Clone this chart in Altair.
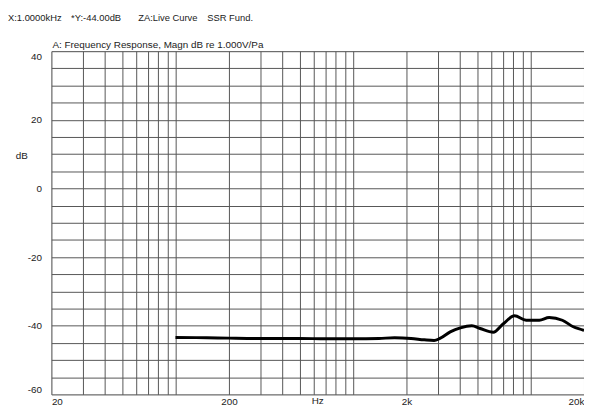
import altair as alt
import pandas as pd

# Curve data (frequency in Hz, level in dB)
freq = [100, 150, 200, 300, 500, 700, 1000, 1400, 1715, 2124, 2518, 2862, 3087,
        3528, 4027, 4668, 5200, 6165, 7000, 8130, 9440, 11200, 12730, 15100,
        17400, 19800, 20000]
level = [-43.4, -43.5, -43.6, -43.7, -43.7, -43.8, -43.8, -43.7, -43.5, -43.7,
         -44.1, -44.3, -43.7, -41.8, -40.6, -40.0, -40.8, -41.9, -39.5, -37.1,
         -38.4, -38.4, -37.6, -38.4, -40.3, -41.3, -41.4]

x_grid = [20, 30, 40, 50, 60, 70, 80, 90, 100,
          200, 300, 400, 500, 600, 700, 800, 900, 1000,
          2000, 3000, 4000, 5000, 6000, 7000, 8000, 9000, 10000, 20000]
x_labels = {20: "20", 200: "200", 2000: "2k", 20000: "20k"}
y_grid = list(range(-60, 45, 5))
y_labels = [-60, -40, -20, 0, 20, 40]

header_texts = ["X:1.0000kHz", "*Y:-44.00dB", "ZA:Live Curve", "SSR Fund."]
title_text = "A: Frequency Response, Magn dB re 1.000V/Pa"
y_title = "dB"
x_unit = "Hz"

FONT = "Liberation Sans"
TXT = "#222222"

df = pd.DataFrame({"f": freq, "db": level})

label_expr = " : ".join(
    [f"datum.value == {k} ? '{v}'" for k, v in x_labels.items()]) + " : ''"
y_label_expr = ("indexof([" + ",".join(str(v) for v in y_labels) +
                "], datum.value) >= 0 ? '' + datum.value : ''")

line = alt.Chart(df).mark_line(color="black", strokeWidth=3, interpolate="monotone").encode(
    x=alt.X("f:Q",
            scale=alt.Scale(type="log", domain=[20, 20000], nice=False),
            axis=alt.Axis(values=x_grid, labelExpr=label_expr, grid=True,
                          gridColor="#555555", gridWidth=1, ticks=False,
                          domain=False, labelFlush=True, labelPadding=2,
                          labelFont=FONT, labelFontSize=10, labelColor=TXT,
                          labelBaseline="top", title=None)),
    y=alt.Y("db:Q",
            scale=alt.Scale(domain=[-60, 40], nice=False),
            axis=alt.Axis(values=y_grid, labelExpr=y_label_expr, grid=True,
                          gridColor="#555555", gridWidth=1, ticks=False,
                          domain=False, labelFlush=True, labelPadding=10,
                          labelFont=FONT, labelFontSize=10, labelColor=TXT,
                          title=None)),
)

layers = [line]

header_x = [-44, 20, 88, 158]
for txt, xp in zip(header_texts, header_x):
    layers.append(
        alt.Chart(pd.DataFrame({"t": [txt]})).mark_text(
            font=FONT, fontSize=9.5, color=TXT, align="left", baseline="middle"
        ).encode(text="t:N", x=alt.value(xp), y=alt.value(-34))
    )

layers.append(
    alt.Chart(pd.DataFrame({"t": [title_text]})).mark_text(
        font=FONT, fontSize=10, color=TXT, align="left", baseline="middle"
    ).encode(text="t:N", x=alt.value(1), y=alt.value(-6))
)
layers.append(
    alt.Chart(pd.DataFrame({"t": [y_title]})).mark_text(
        font=FONT, fontSize=10, color=TXT, align="center", baseline="middle"
    ).encode(text="t:N", x=alt.value(-30), y=alt.value(106))
)
layers.append(
    alt.Chart(pd.DataFrame({"t": [x_unit]})).mark_text(
        font=FONT, fontSize=10, color=TXT, align="center", baseline="top"
    ).encode(text="t:N", x=alt.value(270), y=alt.value(350))
)

chart = alt.layer(*layers).properties(
    width=540, height=348,
    autosize=alt.AutoSizeParams(type="none"),
    padding={"left": 44, "top": 41, "right": 0, "bottom": 9},
).configure_view(stroke="black", strokeWidth=1).configure(background="white")

chart.save("out.html", embed_options={"renderer": "svg", "actions": False})
